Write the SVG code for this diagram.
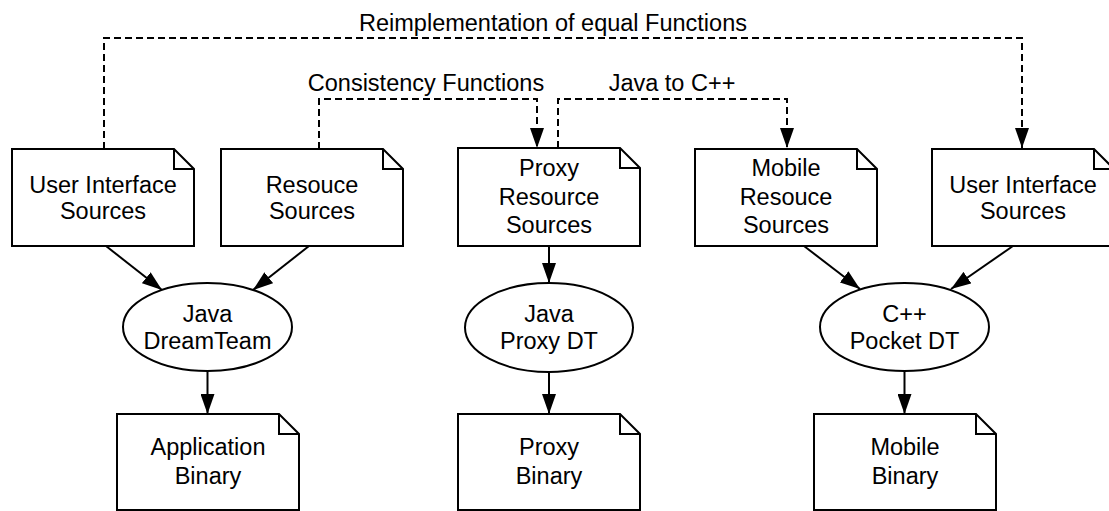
<svg xmlns="http://www.w3.org/2000/svg" width="1109" height="511" viewBox="0 0 1109 511">
<defs>
<style>
.doc{fill:#fff;stroke:#000;stroke-width:2;stroke-linejoin:miter}
.fold{fill:none;stroke:#000;stroke-width:2}
.proc{fill:#fff;stroke:#000;stroke-width:2}
.t{font-family:"Liberation Sans",Arial,Helvetica,sans-serif;font-size:23.5px;fill:#000;text-anchor:middle}
.solid{fill:none;stroke:#000;stroke-width:2}
.dash{fill:none;stroke:#000;stroke-width:2;stroke-dasharray:7 4}
</style>
<marker id="ah" markerUnits="userSpaceOnUse" markerWidth="20" markerHeight="14" refX="20" refY="7" orient="auto" viewBox="0 0 20 14">
<path d="M0,0 L20,7 L0,14 Z" fill="#000"/>
</marker>
</defs>
<rect width="1109" height="511" fill="#fff"/>

<g id="connectors">
<path class="dash" d="M104,149 V38 H1022 V148" marker-end="url(#ah)"/>
<path class="dash" d="M319,149 V99 H537 V148" marker-end="url(#ah)"/>
<path class="dash" d="M558,148 V99 H787 V148" marker-end="url(#ah)"/>
<path class="solid" d="M106,246 L162,290" marker-end="url(#ah)"/>
<path class="solid" d="M309,246 L253,290" marker-end="url(#ah)"/>
<path class="solid" d="M549,246 L549,283" marker-end="url(#ah)"/>
<path class="solid" d="M804,246 L860,289" marker-end="url(#ah)"/>
<path class="solid" d="M1013,246 L951,289" marker-end="url(#ah)"/>
<path class="solid" d="M207.5,371 L207.5,414" marker-end="url(#ah)"/>
<path class="solid" d="M549,372 L549,414" marker-end="url(#ah)"/>
<path class="solid" d="M904.5,371 L904.5,414" marker-end="url(#ah)"/>
<text class="t" x="553" y="31">Reimplementation of equal Functions</text>
<text class="t" x="426" y="91">Consistency Functions</text>
<text class="t" x="672" y="91">Java to C++</text>
</g>

<g id="ui-sources-left">
<path class="doc" d="M12,149 H174 L194,169 V246 H12 Z"/>
<path class="fold" d="M174,149 V169 H194"/>
<text class="t" x="103" y="193">User Interface</text>
<text class="t" x="103" y="219">Sources</text>
</g>

<g id="resouce-sources">
<path class="doc" d="M221,149 H383 L403,169 V246 H221 Z"/>
<path class="fold" d="M383,149 V169 H403"/>
<text class="t" x="312" y="193">Resouce</text>
<text class="t" x="312" y="219">Sources</text>
</g>

<g id="proxy-resource-sources">
<path class="doc" d="M458,148 H620 L640,168 V246 H458 Z"/>
<path class="fold" d="M620,148 V168 H640"/>
<text class="t" x="549" y="176">Proxy</text>
<text class="t" x="549" y="205">Resource</text>
<text class="t" x="549" y="233">Sources</text>
</g>

<g id="mobile-resouce-sources">
<path class="doc" d="M695,149 H857 L877,169 V246 H695 Z"/>
<path class="fold" d="M857,149 V169 H877"/>
<text class="t" x="786" y="176">Mobile</text>
<text class="t" x="786" y="205">Resouce</text>
<text class="t" x="786" y="233">Sources</text>
</g>

<g id="ui-sources-right">
<path class="doc" d="M932,149 H1094 L1114,169 V246 H932 Z"/>
<path class="fold" d="M1094,149 V169 H1114"/>
<text class="t" x="1023" y="193">User Interface</text>
<text class="t" x="1023" y="219">Sources</text>
</g>

<g id="java-dreamteam">
<ellipse class="proc" cx="207.5" cy="327" rx="84.5" ry="44"/>
<text class="t" x="207.5" y="322">Java</text>
<text class="t" x="207.5" y="349">DreamTeam</text>
</g>

<g id="java-proxy-dt">
<ellipse class="proc" cx="549" cy="327.5" rx="84" ry="44.5"/>
<text class="t" x="549" y="322">Java</text>
<text class="t" x="549" y="349">Proxy DT</text>
</g>

<g id="cpp-pocket-dt">
<ellipse class="proc" cx="904.5" cy="327" rx="84.5" ry="44"/>
<text class="t" x="904.5" y="322">C++</text>
<text class="t" x="904.5" y="349">Pocket DT</text>
</g>

<g id="application-binary">
<path class="doc" d="M117,414 H279 L299,434 V510 H117 Z"/>
<path class="fold" d="M279,414 V434 H299"/>
<text class="t" x="208" y="455">Application</text>
<text class="t" x="208" y="484">Binary</text>
</g>

<g id="proxy-binary">
<path class="doc" d="M458,414 H620 L640,434 V510 H458 Z"/>
<path class="fold" d="M620,414 V434 H640"/>
<text class="t" x="549" y="455">Proxy</text>
<text class="t" x="549" y="484">Binary</text>
</g>

<g id="mobile-binary">
<path class="doc" d="M814,414 H976 L996,434 V510 H814 Z"/>
<path class="fold" d="M976,414 V434 H996"/>
<text class="t" x="905" y="455">Mobile</text>
<text class="t" x="905" y="484">Binary</text>
</g>
</svg>
